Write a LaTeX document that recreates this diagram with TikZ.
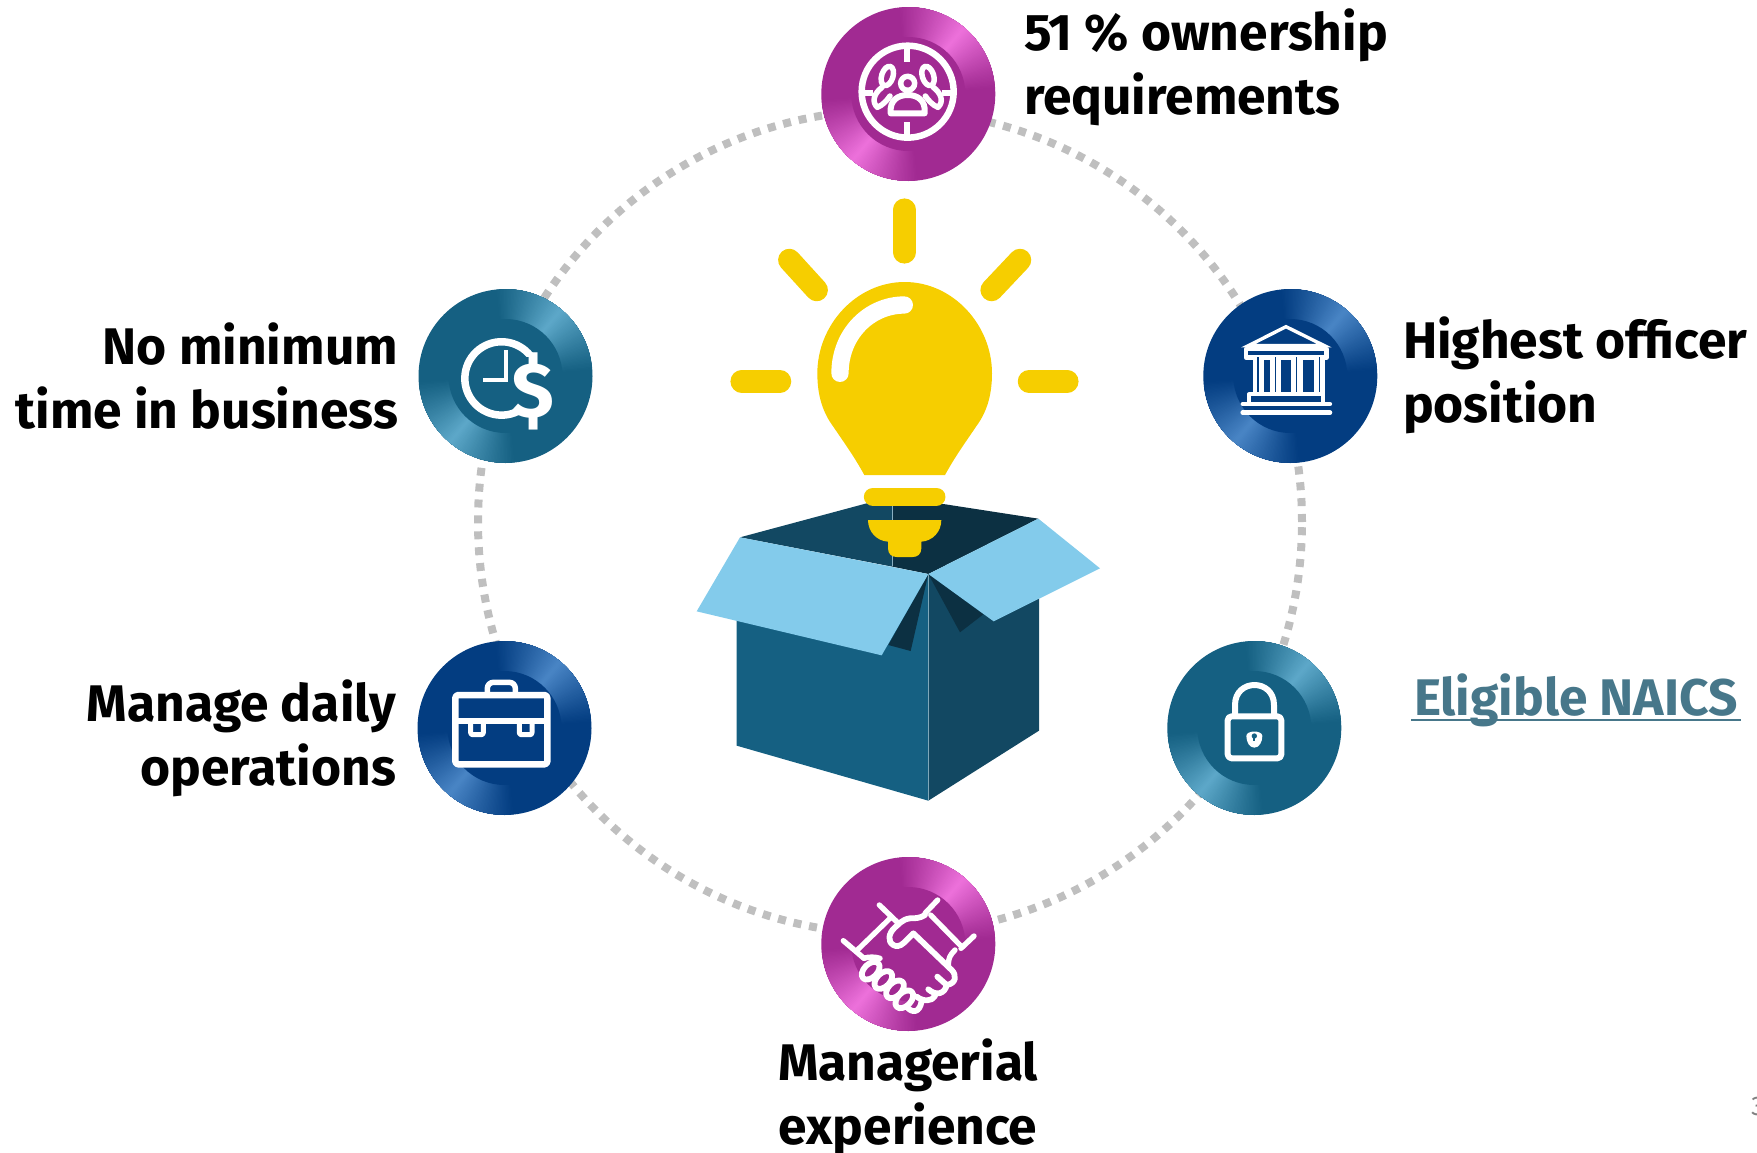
\documentclass[tikz,border=0pt]{standalone}
\usepackage{fontspec}
\setmainfont{Fira Sans}
\definecolor{purpleB}{HTML}{A12A92}
\definecolor{purpleL}{HTML}{EE72DC}
\definecolor{tealB}{HTML}{156082}
\definecolor{tealL}{HTML}{5EA9CA}
\definecolor{navyB}{HTML}{033D81}
\definecolor{navyL}{HTML}{4A86C6}
\definecolor{bulb}{HTML}{F6CE00}
\definecolor{boxFront}{HTML}{156082}
\definecolor{boxSide}{HTML}{124862}
\definecolor{boxDark}{HTML}{0C3042}
\definecolor{flap}{HTML}{83CBEB}
\definecolor{ring}{HTML}{BFBFBF}
\definecolor{linkc}{HTML}{47778A}
\tikzset{
  medalbase/.style={circle,minimum size=174pt,inner sep=0pt,outer sep=0pt},
  lab/.style={font=\fontsize{51.5}{64}\selectfont\bfseries,inner sep=0pt,outer sep=0pt},
  icon/.style={draw=white,line join=round,line cap=round},
  ray/.style={draw=bulb,line width=22.5pt,line cap=round},
  zoomframe/.style={x=0.33333pt,y=-0.33333pt},
}
\newcommand{\medal}[5]{%
  \node[medalbase,fill=#4] (#1) at (#2,#3) {};
  \begin{scope}[shift={(#2,#3)}]
    \foreach \off in {0,180}{
      \foreach \d in {46,45,...,1}{
        \pgfmathsetmacro{\p}{100*(1-\d/47)^1.1}
        \pgfmathsetmacro{\aa}{50+\off-\d}
        \pgfmathsetmacro{\bb}{50+\off+\d}
        \fill[#5!\p!#4] (0,0) -- (\aa:86.7pt) arc[start angle=\aa,end angle=\bb,radius=86.7pt] -- cycle;
      }
    }
    \fill[#4] (0,0) circle[radius=57pt];
  \end{scope}
}
\begin{document}
\begin{tikzpicture}[x=1pt,y=-1pt]
\useasboundingbox (0,0) rectangle (1757,1152);
\coordinate (ringc) at (890,522);
\draw[ring,line width=8pt,dash pattern=on 8pt off 7.9pt] (ringc) circle[radius=412pt];

\medal{own}{908.3}{94}{purpleB}{purpleL}
\medal{time}{505.5}{376}{tealB}{tealL}
\medal{officer}{1290.3}{376}{navyB}{navyL}
\medal{daily}{504.5}{728}{navyB}{navyL}
\medal{naics}{1254.3}{728}{tealB}{tealL}
\medal{exper}{908.3}{944}{purpleB}{purpleL}

% icon: target with people
\begin{scope}[shift={(800,0)},zoomframe]
  \draw[icon,line width=6.5pt] (323,275) circle[radius=138];
  \draw[icon,line width=6pt,line cap=butt] (322,145)--(322,185) (322,366)--(322,408) (185,280)--(218,280) (425,280)--(462,280);
  \draw[icon,line width=5.5pt] (323,250) circle[radius=21];
  \draw[icon,line width=6pt] (272,340) .. controls (268,300) and (295,285) .. (323,285) .. controls (351,285) and (378,300) .. (374,340) -- cycle;
  \draw[icon,line width=5.5pt,rotate around={-18:(262,228)}] (262,228) ellipse[x radius=17,y radius=30];
  \draw[icon,line width=5.5pt] (246,262) .. controls (222,280) and (214,305) .. (232,322) .. controls (248,316) and (262,300) .. (270,288);
  \draw[icon,line width=5.5pt,rotate around={18:(384,228)}] (384,228) ellipse[x radius=17,y radius=30];
  \draw[icon,line width=5.5pt] (400,262) .. controls (424,280) and (432,305) .. (414,322) .. controls (398,316) and (384,300) .. (376,288);
\end{scope}

% icon: clock and dollar
\begin{scope}[shift={(400,280)},zoomframe]
  \draw[white,line width=7.5pt] (398,237) arc[start angle=32,end angle=302,radius=36.7pt];
  \draw[white,line width=4pt,line join=miter] (318,210)--(318,300)--(248,300);
  \fill[tealB] (352,232) rectangle (460,400);
  \node[inner sep=0pt,text=white,font=\fontsize{78}{78}\selectfont\bfseries] (dollar) at (400,335) {\$};
\end{scope}

% icon: bank
\begin{scope}[shift={(1190,280)},zoomframe]
  \draw[icon,line width=3.4pt,line join=miter] (288,140)--(175,197)--(403,197)--cycle;
  \draw[icon,line width=4.5pt] (168,207) rectangle (410,232);
  \foreach \cx in {205,257,321,389}{
    \fill[white] (\cx-17,232) rectangle (\cx+17,342);
    \draw[navyB,line width=1.1pt] (\cx-1,232)--(\cx-1,342);
  }
  \draw[icon,line width=4pt] (177,365)--(177,343)--(400,343)--(400,365);
  \draw[icon,line width=4.2pt] (158,372)--(420,372);
  \draw[icon,line width=4.5pt] (158,398)--(420,398);
\end{scope}

% icon: briefcase
\begin{scope}[shift={(400,630)},zoomframe]
  \draw[icon,line width=6.5pt,rounded corners=3pt] (166,195) rectangle (442,403);
  \draw[icon,line width=5.5pt,rounded corners=6pt] (262,190)--(262,157)--(346,157)--(346,190);
  \draw[icon,line width=5.5pt,line cap=butt] (166,273)--(442,273);
  \draw[icon,line width=5pt,rounded corners=2pt] (212,280)--(212,314)--(250,314)--(250,280);
  \draw[icon,line width=5pt,rounded corners=2pt] (358,280)--(358,314)--(396,314)--(396,280);
\end{scope}

% icon: lock
\begin{scope}[shift={(1150,630)},zoomframe]
  \draw[icon,line width=6pt,rounded corners=4pt] (233,259) rectangle (394,385);
  \draw[icon,line width=6pt] (255,255)--(255,225) .. controls (255,145) and (372,145) .. (372,225)--(372,255);
  \fill[white] (313,353) .. controls (298,353) and (289,335) .. (289,318) .. controls (289,300) and (337,300) .. (337,318) .. controls (337,335) and (328,353) .. (313,353) -- cycle;
  \fill[tealB] (313,318) circle[radius=8];
  \fill[tealB] (310,318) rectangle (316,334);
\end{scope}

% icon: handshake
\begin{scope}[shift={(800,850)},zoomframe]
  \draw[icon,line width=5.4pt] (238,165)--(290,215) (130,272)--(192,325) (413,150)--(375,190) (522,258)--(483,295);
  \draw[icon,line width=5.2pt] (270,205)--(172,300) (392,195)--(480,285);
  \draw[icon,line width=5.8pt] (375,195) .. controls (360,205) and (345,205) .. (330,205) .. controls (305,208) and (295,225) .. (285,232) .. controls (265,250) and (262,275) .. (280,285) .. controls (298,295) and (310,280) .. (320,270) -- (340,250) -- (455,360) .. controls (470,375) and (470,400) .. (440,405) -- (412,380);
  \draw[icon,line width=5.8pt] (440,405) .. controls (435,430) and (410,440) .. (385,418);
  \draw[icon,line width=5.8pt] (405,438) .. controls (395,455) and (370,455) .. (350,440);
  \draw[icon,line width=5.8pt] (365,452) .. controls (360,490) and (335,490) .. (320,470);
  \draw[icon,line width=5.4pt] (465,300) .. controls (450,315) and (445,325) .. (445,345);
  \draw[icon,line width=5.4pt] (192,325) .. controls (205,320) and (225,320) .. (240,325);
  \foreach \fx/\fy in {212/362,250/390,285/418,313/448}{
    \draw[icon,line width=5.8pt,rotate around={45:(\fx,\fy)}] (\fx,\fy) ellipse[x radius=32,y radius=20];
  }
\end{scope}

% box
\begin{scope}[shift={(680,480)},zoomframe]
  \fill[boxSide] (180,172)--(560,70)--(637,70)--(637,260)--cycle;
  \fill[boxDark] (637,70)--(790,72)--(1075,116)--(745,282)--(637,260)--cycle;
  \fill[boxFront] (170,300)--(745,282)--(745,962)--(170,797)--cycle;
  \fill[boxSide] (745,282)--(1077,300)--(1077,752)--(745,962)--cycle;
  \draw[boxFront!55!white,line width=.6pt] (745,282)--(745,962);
  \fill[boxDark] (745,282)--(692,513)--(625,495)--cycle;
  \fill[boxDark] (745,282)--(840,457)--(910,403)--cycle;
  \fill[flap] (180,172)--(745,282)--(605,526)--(50,394)--cycle;
  \fill[flap] (745,282)--(1075,116)--(1260,265)--(941,424)--cycle;
  \draw[boxFront!50!white,line width=.6pt] (637,70)--(637,258);
\end{scope}

% bulb
\begin{scope}[shift={(680,180)},zoomframe]
  \draw[ray] (673,89)--(673,217);
  \draw[ray] (328,240)--(410,330);
  \draw[ray] (1020,240)--(935,330);
  \draw[ray] (185,604)--(300,604);
  \draw[ray] (1047,604)--(1162,604);
  \fill[bulb] (553,885) .. controls (520,825) and (490,785) .. (460,740) .. controls (430,700) and (412,650) .. (412,580) .. controls (412,435) and (529,306) .. (674,306) .. controls (819,306) and (936,435) .. (936,580) .. controls (936,650) and (918,700) .. (888,740) .. controls (858,785) and (828,825) .. (795,885) -- cycle;
  \draw[white,line width=17.3pt,line cap=round] (480,580) .. controls (480,460) and (570,375) .. (673,375);
  \draw[bulb,line width=18.3pt,line cap=round] (579,950)--(769,950);
  \fill[bulb] (564,1020) .. controls (564,1055) and (590,1083) .. (624,1085) -- (624,1105) .. controls (624,1122) and (635,1131) .. (650,1131) -- (698,1131) .. controls (713,1131) and (724,1122) .. (724,1105) -- (724,1085) .. controls (758,1083) and (784,1055) .. (784,1020) -- cycle;
\end{scope}

% labels (node base = last line)
\node[lab,anchor=base west,align=left] (t1) at (1024,114.5) {51 \% ownership\\requirements};
\node[lab,anchor=base west,align=left] (t2) at (1403,422.5) {Highest officer\\position};
\node[lab,anchor=base east,align=right] (t3) at (398,428.5) {No minimum\\time in business};
\node[lab,anchor=base east,align=right] (t4) at (396,785) {Manage daily\\operations};
\node[lab,anchor=base,align=center] (t5) at (908,1144) {Managerial\\experience};
\node[lab,anchor=base west,text=linkc] (t6) at (1414,715) {Eligible NAICS};
\draw[linkc,line width=2.5pt] ([shift={(-3pt,-5pt)}]t6.base west)--([shift={(3pt,-5pt)}]t6.base east);
\node[anchor=base west,inner sep=0pt,text=black!50,font=\fontsize{27}{27}\selectfont] (pg) at (1751,1115) {3};
\end{tikzpicture}
\end{document}
